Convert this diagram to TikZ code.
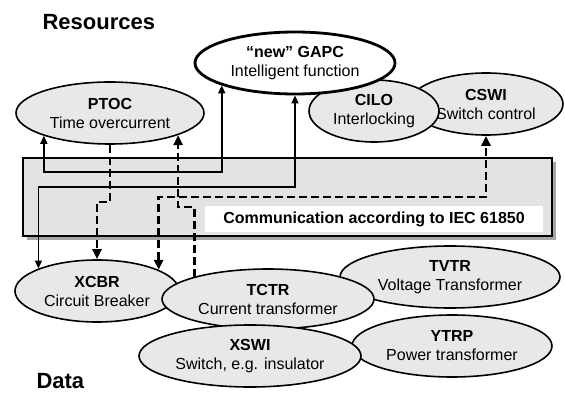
\documentclass[tikz,border=0pt]{standalone}
\usepackage{fontspec}
\setmainfont{Liberation Sans}
\usetikzlibrary{shapes.geometric,arrows.meta,shadows}
\tikzstyle{lnode} = [ellipse, draw, line width=1.6pt, fill=black!9, inner sep=0pt, align=center, font=\fontsize{16}{19}\selectfont]
\tikzstyle{newnode} = [lnode, fill=white, line width=2.8pt]
\tikzstyle{bus} = [rectangle, draw, line width=1.6pt, minimum width=529pt, minimum height=78pt, drop shadow={shadow xshift=4pt, shadow yshift=-4pt, fill=black!35, opacity=1}, fill=black!11]
\tikzstyle{data} = [line width=1.6pt]
\tikzstyle{ctrl} = [line width=2.6pt, dash pattern=on 8pt off 4pt, >={Triangle[length=10pt,width=9pt]}]

\begin{document}
\begin{tikzpicture}[x=1pt,y=-1pt,>={Triangle[length=8pt,width=7pt]}]
  \useasboundingbox (0,0) rectangle (565,393);
  \node[anchor=base west, font=\fontsize{22}{26}\selectfont\bfseries] (res) at (39,30) {Resources};
  \node[anchor=base west, font=\fontsize{22}{26}\selectfont\bfseries] (dat) at (33,388) {Data};

  % communication bus
  \node[bus] (bus) at (287.5,197) {};
  \node[fill=white, minimum width=338pt, minimum height=26pt, inner sep=0pt, font=\fontsize{16}{19}\selectfont\bfseries] (comm) at (374,219) {Communication according to IEC 61850};

  % logical nodes
  \node[lnode, minimum width=188pt, minimum height=62pt] (ptoc) at (110,113) {\textbf{PTOC}\\Time overcurrent};
  \node[lnode, minimum width=154pt, minimum height=62pt] (cswi) at (486,104) {\textbf{CSWI}\\Switch control};
  \node[lnode, minimum width=130pt, minimum height=62pt] (cilo) at (374,111) {\textbf{CILO}\\Interlocking};
  \node[newnode, minimum width=200pt, minimum height=62pt] (gapc) at (295,63) {\textbf{“new” GAPC}\\Intelligent function};
  \node[lnode, minimum width=164pt, minimum height=62pt] (xcbr) at (97,291) {\textbf{XCBR}\\Circuit Breaker};
  \node[lnode, minimum width=220pt, minimum height=62pt] (tvtr) at (450,277) {\textbf{TVTR}\\Voltage Transformer};
  \node[lnode, minimum width=212pt, minimum height=60pt] (tctr) at (268,299) {\textbf{TCTR}\\Current transformer};
  \node[lnode, minimum width=200pt, minimum height=62pt] (ytrp) at (452,346) {\textbf{YTRP}\\Power transformer};
  \node[lnode, minimum width=222pt, minimum height=62pt] (xswi) at (250,356) {\textbf{XSWI}\\Switch, e.g. insulator};

  % levels inside the bus
  \coordinate (lvlA) at (0,172);
  \coordinate (lvlB) at (0,187);
  \coordinate (lvlE) at (0,197);
  \coordinate (lvlC) at (0,202);
  \coordinate (lvlD) at (0,207);

  \draw[data,<->] (ptoc.199) -- (ptoc.199 |- lvlA) -| (gapc.197);
  \draw[data,<->] (gapc.south) -- (gapc.south |- lvlB) -| (xcbr.159);
  \draw[ctrl,->] (ptoc.south) -- (ptoc.south |- lvlC) -| (xcbr.north);
  \draw[ctrl,->] (tctr.163) -- (tctr.163 |- lvlD) -| (ptoc.342);
  \draw[ctrl,<->] (xcbr.19) -- (xcbr.19 |- lvlE) -| (cswi.south);
\end{tikzpicture}
\end{document}
